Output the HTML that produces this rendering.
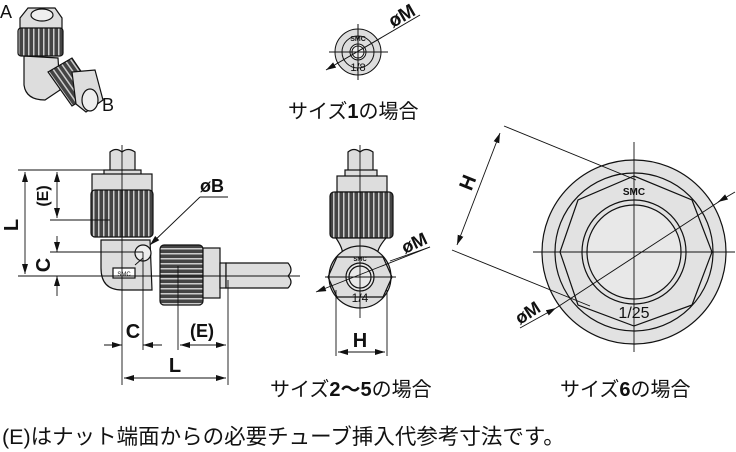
<!DOCTYPE html>
<html><head><meta charset="utf-8"><style>
html,body{margin:0;padding:0;background:#fff;width:736px;height:452px;overflow:hidden}
svg{display:block}
.t{font-family:"Liberation Sans","Noto Sans CJK JP",sans-serif;fill:#111}
.b{font-weight:bold}
</style></head><body>
<svg width="736" height="452" viewBox="0 0 736 452" xmlns="http://www.w3.org/2000/svg">
<defs>
<marker id="a" viewBox="0 0 10 6" refX="10" refY="3" markerWidth="10" markerHeight="6" orient="auto-start-reverse" markerUnits="userSpaceOnUse"><path d="M0,0L10,3L0,6z" fill="#111"/></marker>
<pattern id="kv" width="5" height="10" patternUnits="userSpaceOnUse"><rect width="5" height="10" fill="#444"/><rect x="3" width="1.5" height="10" fill="#ccc"/></pattern>
<pattern id="kh" width="10" height="5" patternUnits="userSpaceOnUse"><rect width="10" height="5" fill="#444"/><rect y="3" width="10" height="1.5" fill="#ccc"/></pattern>
<pattern id="kd" width="5" height="5" patternUnits="userSpaceOnUse" patternTransform="rotate(-35)"><rect width="5" height="5" fill="#444"/><rect x="3" width="1.5" height="5" fill="#ccc"/></pattern>
</defs>
<g stroke="#111" stroke-width="1.2" fill="#ddd">
<!-- 3D icon -->
<path d="M24,56 L24,85 Q26,100 45,100 L60,90 L58,58z"/>
<path d="M20,18 L28,8 L55,8 L62,18 L62,30 L20,30z"/>
<ellipse cx="42" cy="15" rx="11" ry="6" fill="#eee"/>
<rect x="18" y="28" width="45" height="28" rx="3" fill="url(#kv)"/>
<path d="M48,72 L72,58 L95,92 L72,106z" fill="url(#kd)"/>
<path d="M72,72 L95,70 L103,100 L86,112 L76,104z"/>
<ellipse cx="90" cy="100" rx="8" ry="11" fill="#eee"/>
</g>
<text class="t" x="0" y="18" font-size="18">A</text>
<text class="t" x="102" y="111" font-size="18">B</text>
<!-- size 1 -->
<g stroke="#111" stroke-width="1" fill="#ddd">
<circle cx="358" cy="52" r="23"/><circle cx="358" cy="52" r="16" fill="none"/>
<circle cx="358" cy="52" r="8" fill="#eee"/><circle cx="358" cy="52" r="6" fill="none"/>
<line x1="329" y1="52" x2="388" y2="52"/><line x1="358" y1="24" x2="358" y2="80"/>
<line x1="326" y1="70" x2="420" y2="15" marker-start="url(#a)"/>
</g>
<text class="t b" x="358" y="41" font-size="7" text-anchor="middle">SMC</text>
<text class="t" x="358" y="71" font-size="11" text-anchor="middle">1/8</text>
<text class="t b" x="393" y="28" font-size="19" transform="rotate(-30 393 28)">øM</text>
<text class="t" x="288" y="118" font-size="20">サイズ<tspan class="b">1</tspan>の場合</text>
<!-- left elbow -->
<g stroke="#111" stroke-width="1.2" fill="#ddd">
<path d="M110,175 L110,152 Q116,147 122,152 Q128,147 135,152 L135,175z"/>
<rect x="104" y="170" width="37" height="12"/>
<rect x="92" y="174" width="60" height="17"/>
<rect x="91" y="190" width="62" height="47" rx="4" fill="url(#kv)"/>
<path d="M101,240 L150,240 L152,290 L122,290 Q101,290 101,268z"/>
<rect x="113" y="268" width="22" height="10" fill="#fff"/>
<circle cx="143" cy="253" r="8" fill="#eee"/>
<rect x="160" y="245" width="43" height="60" rx="4" fill="url(#kh)"/>
<rect x="203" y="248" width="17" height="50"/>
<rect x="220" y="263" width="6" height="25"/>
<path d="M226,263 L288,263 Q294,270 288,276 Q294,282 288,288 L226,288z"/>
</g>
<text class="t" x="124" y="276" font-size="6" text-anchor="middle">SMC</text>
<g stroke="#111" stroke-width="0.9" fill="none">
<line x1="122" y1="145" x2="122" y2="385"/>
<line x1="18" y1="276" x2="300" y2="276"/>
<line x1="18" y1="170" x2="110" y2="170"/>
<line x1="50" y1="220" x2="110" y2="220"/>
<line x1="50" y1="252" x2="143" y2="252"/>
<line x1="25" y1="172" x2="25" y2="274" marker-start="url(#a)" marker-end="url(#a)"/>
<line x1="57" y1="172" x2="57" y2="218" marker-start="url(#a)" marker-end="url(#a)"/>
<line x1="57" y1="236" x2="57" y2="252" marker-end="url(#a)"/>
<line x1="57" y1="296" x2="57" y2="276" marker-end="url(#a)"/>
<line x1="143" y1="252" x2="143" y2="350"/>
<line x1="178" y1="266" x2="178" y2="350"/>
<line x1="228" y1="280" x2="228" y2="385"/>
<line x1="104" y1="345" x2="122" y2="345" marker-end="url(#a)"/>
<line x1="162" y1="345" x2="143" y2="345" marker-end="url(#a)"/>
<line x1="180" y1="345" x2="226" y2="345" marker-start="url(#a)" marker-end="url(#a)"/>
<line x1="124" y1="378" x2="226" y2="378" marker-start="url(#a)" marker-end="url(#a)"/>
<line x1="228" y1="197" x2="200" y2="197"/>
<line x1="200" y1="197" x2="150" y2="245" marker-end="url(#a)"/>
<line x1="135" y1="265" x2="143" y2="258"/>
</g>
<text class="t b" x="18" y="225" font-size="20" transform="rotate(-90 18 225)" text-anchor="middle">L</text>
<text class="t b" x="48" y="196" font-size="16" transform="rotate(-90 48 196)" text-anchor="middle">(E)</text>
<text class="t b" x="50" y="265" font-size="20" transform="rotate(-90 50 265)" text-anchor="middle">C</text>
<text class="t b" x="133" y="338" font-size="20" text-anchor="middle">C</text>
<text class="t b" x="202" y="337" font-size="18" text-anchor="middle">(E)</text>
<text class="t b" x="175" y="372" font-size="20" text-anchor="middle">L</text>
<text class="t b" x="200" y="192" font-size="18">øB</text>
<!-- middle -->
<g stroke="#111" stroke-width="1.2" fill="#ddd">
<path d="M348,175 L348,152 Q354,147 360,152 Q366,147 373,152 L373,175z"/>
<rect x="345" y="170" width="32" height="8"/>
<rect x="337" y="176" width="50" height="16"/>
<rect x="330" y="192" width="63" height="46" rx="4" fill="url(#kv)"/>
<path d="M336,238 L386,238 Q376,250 378,255 L342,255 Q344,250 336,238z"/>
<circle cx="360" cy="277" r="31"/>
<path d="M337,257 L383,257 L392,277 L383,297 L337,297 L328,277z" fill="none"/>
<circle cx="360" cy="277" r="14" fill="#e8e8e8"/><circle cx="360" cy="277" r="11" fill="none"/>
</g>
<g stroke="#111" stroke-width="0.9" fill="none">
<line x1="360" y1="145" x2="360" y2="318"/>
<line x1="325" y1="277" x2="396" y2="277"/>
<line x1="336" y1="290" x2="336" y2="356"/>
<line x1="387" y1="290" x2="387" y2="356"/>
<line x1="338" y1="352" x2="385" y2="352" marker-start="url(#a)" marker-end="url(#a)"/>
<line x1="316" y1="292" x2="430" y2="247" marker-start="url(#a)"/>
<line x1="390" y1="261" x2="430" y2="247"/>
</g>
<text class="t b" x="360" y="261" font-size="6" text-anchor="middle">SMC</text>
<text class="t" x="360" y="302" font-size="12" text-anchor="middle">1/4</text>
<text class="t b" x="360" y="347" font-size="20" text-anchor="middle">H</text>
<text class="t b" x="405" y="254" font-size="18" transform="rotate(-25 405 254)">øM</text>
<text class="t" x="270" y="396" font-size="20">サイズ<tspan class="b">2～5</tspan>の場合</text>
<!-- right -->
<g stroke="#111" stroke-width="1.2" fill="#e2e2e2">
<circle cx="634" cy="252" r="92"/>
<circle cx="634" cy="252" r="79" fill="none"/>
<path d="M634,176 L692,200 L712,252 L692,305 L634,326 L578,305 L560,252 L578,200z" fill="none"/>
<circle cx="634" cy="252" r="52" fill="none"/>
<circle cx="634" cy="252" r="47" fill="#e8e8e8"/>
</g>
<g stroke="#111" stroke-width="0.9" fill="none">
<line x1="634" y1="142" x2="634" y2="352"/>
<line x1="533" y1="252" x2="735" y2="252"/>
<line x1="504" y1="126" x2="636" y2="180"/>
<line x1="452" y1="250" x2="590" y2="306"/>
<line x1="500" y1="133" x2="457" y2="245" marker-start="url(#a)" marker-end="url(#a)"/>
<line x1="520" y1="328" x2="556" y2="308" marker-end="url(#a)"/>
<line x1="556" y1="308" x2="720" y2="201"/>
<line x1="735" y1="192" x2="718" y2="202" marker-end="url(#a)"/>
</g>
<text class="t b" x="634" y="195" font-size="10" text-anchor="middle">SMC</text>
<text class="t" x="634" y="318" font-size="16" text-anchor="middle">1/25</text>
<text class="t b" x="474" y="185" font-size="20" transform="rotate(-68 474 185)" text-anchor="middle">H</text>
<text class="t b" x="520" y="325" font-size="18" transform="rotate(-33 520 325)">øM</text>
<text class="t" x="560" y="396" font-size="20">サイズ<tspan class="b">6</tspan>の場合</text>
<text class="t" x="2" y="444" font-size="21.5">(E)はナット端面からの必要チューブ挿入代参考寸法です。</text>
</svg>
</body></html>
